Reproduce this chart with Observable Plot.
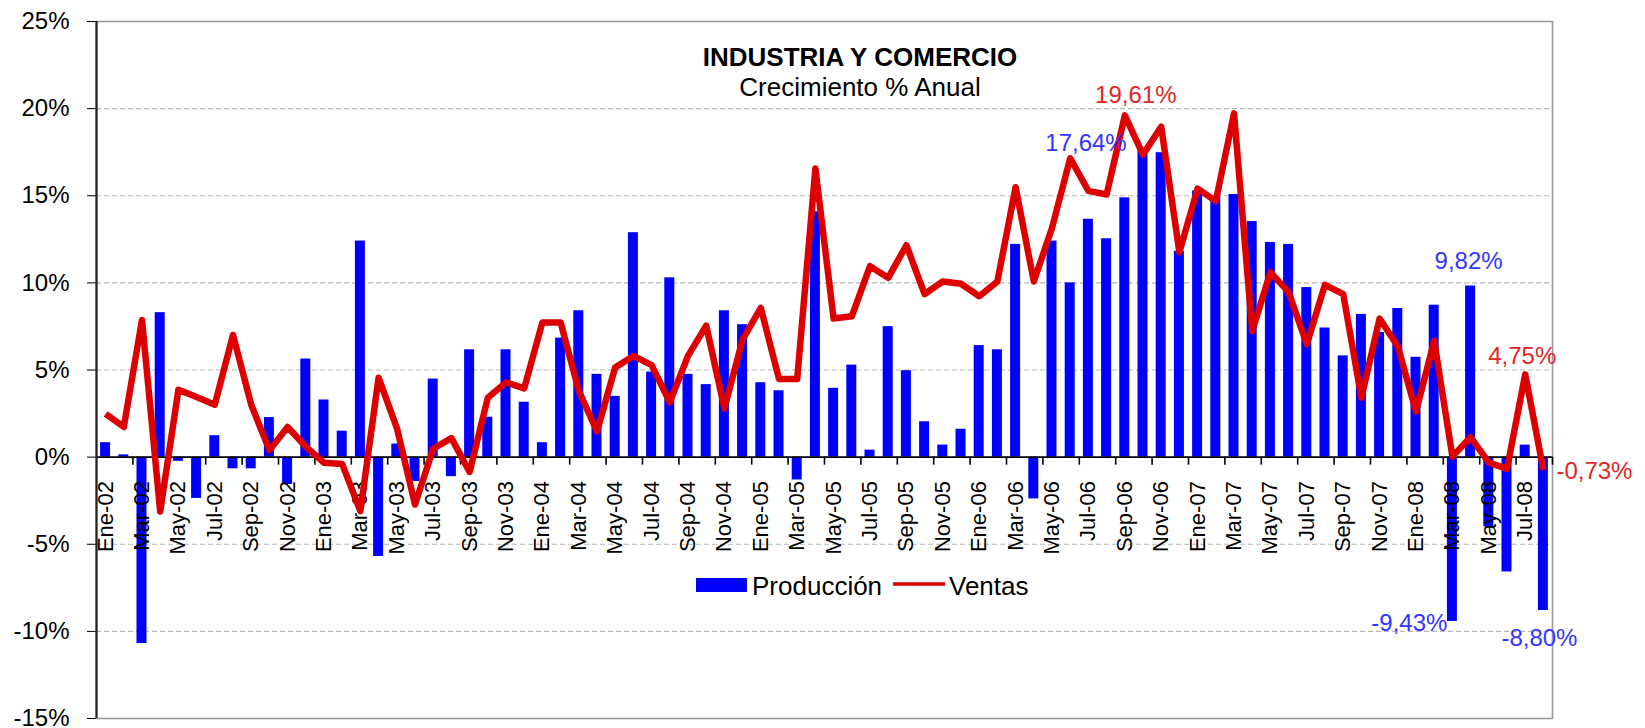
<!DOCTYPE html>
<html>
<head>
<meta charset="utf-8">
<script src="https://cdn.jsdelivr.net/npm/d3@7"></script>
<script src="https://cdn.jsdelivr.net/npm/@observablehq/plot@0.6"></script>
<style>
  html, body { margin: 0; padding: 0; background: #fff; }
  #chart svg { display: block; }
</style>
</head>
<body>
<div id="chart"></div>
<script>
// ---------- data ----------
const months = [
  "Ene-02","Feb-02","Mar-02","Abr-02","May-02","Jun-02","Jul-02","Ago-02","Sep-02","Oct-02","Nov-02","Dic-02",
  "Ene-03","Feb-03","Mar-03","Abr-03","May-03","Jun-03","Jul-03","Ago-03","Sep-03","Oct-03","Nov-03","Dic-03",
  "Ene-04","Feb-04","Mar-04","Abr-04","May-04","Jun-04","Jul-04","Ago-04","Sep-04","Oct-04","Nov-04","Dic-04",
  "Ene-05","Feb-05","Mar-05","Abr-05","May-05","Jun-05","Jul-05","Ago-05","Sep-05","Oct-05","Nov-05","Dic-05",
  "Ene-06","Feb-06","Mar-06","Abr-06","May-06","Jun-06","Jul-06","Ago-06","Sep-06","Oct-06","Nov-06","Dic-06",
  "Ene-07","Feb-07","Mar-07","Abr-07","May-07","Jun-07","Jul-07","Ago-07","Sep-07","Oct-07","Nov-07","Dic-07",
  "Ene-08","Feb-08","Mar-08","Abr-08","May-08","Jun-08","Jul-08","Ago-08"
];
const produccion = [
  0.83, 0.13, -10.70, 8.29, -0.24, -2.37, 1.23, -0.67, -0.67, 2.27, -1.57, 5.63,
  3.28, 1.49, 12.40, -5.70, 0.75, -1.40, 4.48, -1.12, 6.16, 2.29, 6.16, 3.15,
  0.83, 6.83, 8.40, 4.75, 3.49, 12.88, 4.88, 10.29, 4.75, 4.16, 8.40, 7.60,
  4.27, 3.81, -1.31, 14.08, 3.95, 5.28, 0.40, 7.49, 4.96, 2.03, 0.69, 1.60,
  6.40, 6.16, 12.21, -2.40, 12.40, 10.00, 13.65, 12.53, 14.88, 17.64, 17.47, 11.81,
  15.28, 14.96, 15.07, 13.52, 12.32, 12.21, 9.73, 7.41, 5.81, 8.19, 7.15, 8.53,
  5.73, 8.72, -9.43, 9.82, -4.00, -6.59, 0.69, -8.80
];
const ventas = [
  2.48, 1.73, 7.87, -3.12, 3.87, 3.45, 3.01, 7.01, 3.01, 0.40, 1.73, 0.60,
  -0.32, -0.40, -3.10, 4.56, 1.68, -2.72, 0.48, 1.09, -0.85, 3.41, 4.29, 3.95,
  7.73, 7.73, 3.81, 1.47, 5.15, 5.81, 5.28, 3.15, 5.81, 7.55, 2.80, 6.75,
  8.56, 4.48, 4.48, 16.56, 7.95, 8.08, 10.96, 10.29, 12.16, 9.36, 10.08, 9.95,
  9.23, 10.08, 15.49, 10.08, 13.15, 17.15, 15.28, 15.07, 19.61, 17.36, 18.96, 11.76,
  15.41, 14.69, 19.73, 7.23, 10.61, 9.47, 6.48, 9.89, 9.36, 3.41, 7.95, 6.35,
  2.61, 6.67, 0.03, 1.15, -0.32, -0.67, 4.75, -0.73
];
const yTickValues = [-15, -10, -5, 0, 5, 10, 15, 20, 25];
const seriesNames = ["Producción", "Ventas"];
const titleText = "INDUSTRIA Y COMERCIO";
const subtitleText = "Crecimiento % Anual";
// highlighted data labels: month, series
const prodLabelMonths = ["Oct-06", "Abr-08", "Mar-08", "Ago-08"];
const ventasLabelMonths = ["Sep-06", "Jul-08", "Ago-08"];

// ---------- layout / style ----------
const W = 1645, H = 728;
const ML = 96, MR = 93, MT = 21, MB = 10;
const FONT = "'Liberation Sans', Arial, Helvetica, sans-serif";
const BLUE = "#0000ff", RED = "#dc0000";
const LBLUE = "#3535ff", LRED = "#e02626";
const barInset = 4.1;

const data = months.map((m, i) => ({ month: m, i, prod: produccion[i], ventas: ventas[i] }));
const fmt = v => v.toFixed(2).replace(".", ",") + "%";
const labelOffsets = {
  "prod:Oct-06": { dx: -57, dy: -6, anchor: "middle" },
  "prod:Abr-08": { dx: -2, dy: -25, anchor: "middle" },
  "prod:Mar-08": { dx: -5, dy: 2, anchor: "end" },
  "prod:Ago-08": { dx: -4, dy: 28, anchor: "middle" },
  "ventas:Sep-06": { dx: 11, dy: -20, anchor: "middle" },
  "ventas:Jul-08": { dx: -3, dy: -18, anchor: "middle" },
  "ventas:Ago-08": { dx: 13, dy: 1, anchor: "start" }
};
const center = d => d.i + 0.5;

function labelMarks(key, months_, color) {
  return months_.map(m => {
    const o = labelOffsets[key + ":" + m];
    return Plot.text(data.filter(d => d.month === m), {
      x: center, y: key, text: d => fmt(d[key]),
      dx: o.dx, dy: o.dy, textAnchor: o.anchor, lineAnchor: "middle",
      fill: color, fontSize: 24, fontFamily: FONT
    });
  });
}

const gridVals = yTickValues.filter(t => t !== 0 && t !== yTickValues[0] && t !== yTickValues[yTickValues.length - 1]);
const tickRows = data.filter(d => d.i % 2 === 0 && d.i > 0);
const labelRows = data.filter(d => d.i % 2 === 0);

const chart = Plot.plot({
  width: W, height: H,
  marginLeft: ML, marginRight: MR, marginTop: MT, marginBottom: MB,
  style: { fontFamily: FONT, fontSize: "24px", color: "#000", background: "#fff", overflow: "visible" },
  x: { type: "linear", domain: [0, months.length], axis: null },
  y: { domain: [yTickValues[0], yTickValues[yTickValues.length - 1]], ticks: 8,
       tickFormat: d => d + "%", tickSize: 9, tickPadding: 18, label: null },
  marks: [
    Plot.ruleY(gridVals, { stroke: "#b8b8b8", strokeWidth: 1.2, strokeDasharray: "5,3" }),
    Plot.frame({ stroke: "#9a9a9a", strokeWidth: 1.6 }),
    Plot.rectY(data, { x1: d => d.i, x2: d => d.i + 1, y1: () => 0, y2: "prod",
                       insetLeft: barInset, insetRight: barInset, fill: BLUE }),
    Plot.ruleY([0], { stroke: "#000", strokeWidth: 1.6 }),
    Plot.ruleX(tickRows, { x: "i", y1: () => 0, y2: () => 0, insetBottom: -8, stroke: "#000", strokeWidth: 1.6 }),
    Plot.ruleX([months.length], { y1: () => 0, y2: () => 0, insetBottom: -8, stroke: "#000", strokeWidth: 1.6 }),
    Plot.ruleX([0], { stroke: "#222", strokeWidth: 2.2 }),
    Plot.text(labelRows, {
      x: center, y: () => 0, text: "month", rotate: -90, textAnchor: "end",
      dy: 24, fontSize: 22, fill: "#000", fontFamily: FONT
    }),
    Plot.lineY(data, { x: center, y: "ventas", stroke: RED, strokeWidth: 6.5, strokeLinejoin: "round", strokeLinecap: "butt" }),
    ...labelMarks("prod", prodLabelMonths, LBLUE),
    ...labelMarks("ventas", ventasLabelMonths, LRED)
  ]
});

document.getElementById("chart").appendChild(chart);

// ---------- title & legend (inside plot area) ----------
const svg = d3.select(chart);
const g = svg.append("g").attr("font-family", FONT).attr("text-anchor", "middle");
g.append("text").attr("x", 860).attr("y", 66)
  .attr("font-size", 26).attr("font-weight", "bold").attr("fill", "#000").text(titleText);
g.append("text").attr("x", 860).attr("y", 96)
  .attr("font-size", 26).attr("fill", "#000").text(subtitleText);

const lg = svg.append("g").attr("font-family", FONT).attr("font-size", 26)
  .attr("fill", "#000").attr("text-anchor", "start");
lg.append("rect").attr("x", 696).attr("y", 578).attr("width", 51).attr("height", 14).attr("fill", BLUE);
lg.append("text").attr("x", 752).attr("y", 595).text(seriesNames[0]);
lg.append("line").attr("x1", 893).attr("x2", 945).attr("y1", 584).attr("y2", 584)
  .attr("stroke", RED).attr("stroke-width", 3.5);
lg.append("text").attr("x", 949).attr("y", 595).text(seriesNames[1]);
</script>
</body>
</html>
